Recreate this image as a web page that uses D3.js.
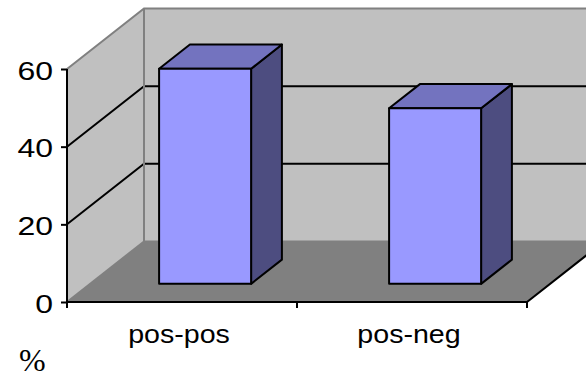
<!DOCTYPE html>
<html>
<head>
<meta charset="utf-8">
<script src="https://cdn.jsdelivr.net/npm/d3@7"></script>
<style>
  html, body { margin: 0; padding: 0; background: #fff; }
  svg { display: block; }
</style>
</head>
<body>
<svg id="chart" width="586" height="379"></svg>
<script>
// Chart data
const categories = ["pos-pos", "pos-neg"];
const values = [55.4, 45.2];
const yTicks = [0, 20, 40, 60];
const unitLabel = "%";

const svg = d3.select("#chart");

// Front plane of the 3D box
const x0 = 67, x1 = 527, yBottom = 302, yTop = 69;
// Oblique depth offset (front -> back)
const DX = 77, DY = 60.5;

const y = d3.scaleLinear().domain([0, 60]).range([yBottom, yTop]);
const xBand = d3.scaleBand().domain(categories).range([x0, x1])
  .paddingInner(0.6).paddingOuter(0.3);
const xTick = d3.scaleBand().domain(categories).range([x0, x1]).padding(0);

// project a front-plane point (x, value) back by a depth fraction d in [0, 1]
const P = (x, v, d) => [x + d * DX, y(v) - d * DY];
const poly = pts => "M" + pts.map(p => p.join(",")).join("L") + "Z";

const wallFill = "#c0c0c0", floorFill = "#808080", edgeColor = "#808080";

// Back wall
svg.append("path")
  .attr("d", poly([P(x0, 0, 1), P(x1, 0, 1), P(x1, 60, 1), P(x0, 60, 1)]))
  .attr("fill", wallFill);
// Side wall
svg.append("path")
  .attr("d", poly([P(x0, 0, 0), P(x0, 0, 1), P(x0, 60, 1), P(x0, 60, 0)]))
  .attr("fill", wallFill);
// Floor
svg.append("path")
  .attr("d", poly([P(x0, 0, 0), P(x1, 0, 0), P(x1, 0, 1), P(x0, 0, 1)]))
  .attr("fill", floorFill);

// Gridlines (side wall + back wall) for interior ticks
const grid = svg.append("g").attr("stroke", "#000").attr("stroke-width", 2).attr("fill", "none");
yTicks.filter(t => t > 0 && t < 60).forEach(t => {
  grid.append("path").attr("d", "M" + P(x0, t, 0) + "L" + P(x0, t, 1) + "L" + P(x1, t, 1));
});

// Wall edges
const edges = svg.append("g").attr("stroke", edgeColor).attr("stroke-width", 2).attr("fill", "none");
edges.append("path").attr("d", "M" + P(x0, 60, 0) + "L" + P(x0, 60, 1) + "L" + P(x1, 60, 1));
edges.append("path").attr("d", "M" + P(x0, 60, 1) + "L" + P(x0, 0, 1) + "L" + P(x1, 0, 1));
edges.append("path").attr("d", "M" + P(x0, 0, 0) + "L" + P(x0, 0, 1));

// Floor front and right edges
svg.append("path")
  .attr("d", "M" + P(x0, 0, 0) + "L" + P(x1, 0, 0) + "L" + P(x1, 0, 1))
  .attr("stroke", "#000").attr("stroke-width", 2).attr("fill", "none");

// Bars (3D columns)
const dFront = 0.3, dBack = 0.7;
const frontFill = "#9999ff", topFill = "#7373bf", sideFill = "#4d4d80";
const bars = svg.append("g").attr("stroke", "#000").attr("stroke-width", 2).attr("stroke-linejoin", "round");
categories.forEach((c, i) => {
  const v = values[i];
  const xl = xBand(c), xr = xl + xBand.bandwidth();
  bars.append("path").attr("fill", sideFill)
    .attr("d", poly([P(xr, 0, dFront), P(xr, 0, dBack), P(xr, v, dBack), P(xr, v, dFront)]));
  bars.append("path").attr("fill", topFill)
    .attr("d", poly([P(xl, v, dFront), P(xr, v, dFront), P(xr, v, dBack), P(xl, v, dBack)]));
  bars.append("path").attr("fill", frontFill)
    .attr("d", poly([P(xl, 0, dFront), P(xr, 0, dFront), P(xr, v, dFront), P(xl, v, dFront)]));
});

// Value axis
const yAxis = svg.append("g").attr("transform", `translate(${x0},0)`)
  .call(d3.axisLeft(y).tickValues(yTicks).tickSize(6).tickPadding(8).tickFormat(d3.format("d")));
yAxis.select(".domain").attr("stroke", "#000").attr("stroke-width", 2).attr("d", `M0,${yBottom}V${yTop}`);
yAxis.selectAll(".tick line").attr("stroke", "#000").attr("stroke-width", 2);
yAxis.selectAll(".tick text")
  .attr("font-family", "Arial, 'Liberation Sans', sans-serif")
  .attr("font-size", 25).attr("fill", "#000")
  .attr("x", null).attr("dy", "0.36em")
  .attr("transform", "translate(-14,1) scale(1.28,1)");

// Category axis ticks
const xAxis = svg.append("g").attr("transform", `translate(0,${yBottom})`);
const tickXs = [x0].concat(categories.map(c => xTick(c) + xTick.bandwidth()));
xAxis.selectAll("line").data(tickXs).join("line")
  .attr("x1", d => d).attr("x2", d => d).attr("y1", 0).attr("y2", 6)
  .attr("stroke", "#000").attr("stroke-width", 2);
xAxis.selectAll("text").data(categories).join("text")
  .attr("transform", c => `translate(${xTick(c) + xTick.bandwidth() / 2 - 3},41) scale(1.1,1)`)
  .attr("text-anchor", "middle")
  .attr("font-family", "Arial, 'Liberation Sans', sans-serif")
  .attr("font-size", 26).attr("fill", "#000")
  .text(c => c);

// Unit label
svg.append("text")
  .attr("x", 19).attr("y", 371)
  .attr("font-family", "'Times New Roman', 'Liberation Serif', serif")
  .attr("font-size", 32).attr("fill", "#000")
  .text(unitLabel);
</script>
</body>
</html>
